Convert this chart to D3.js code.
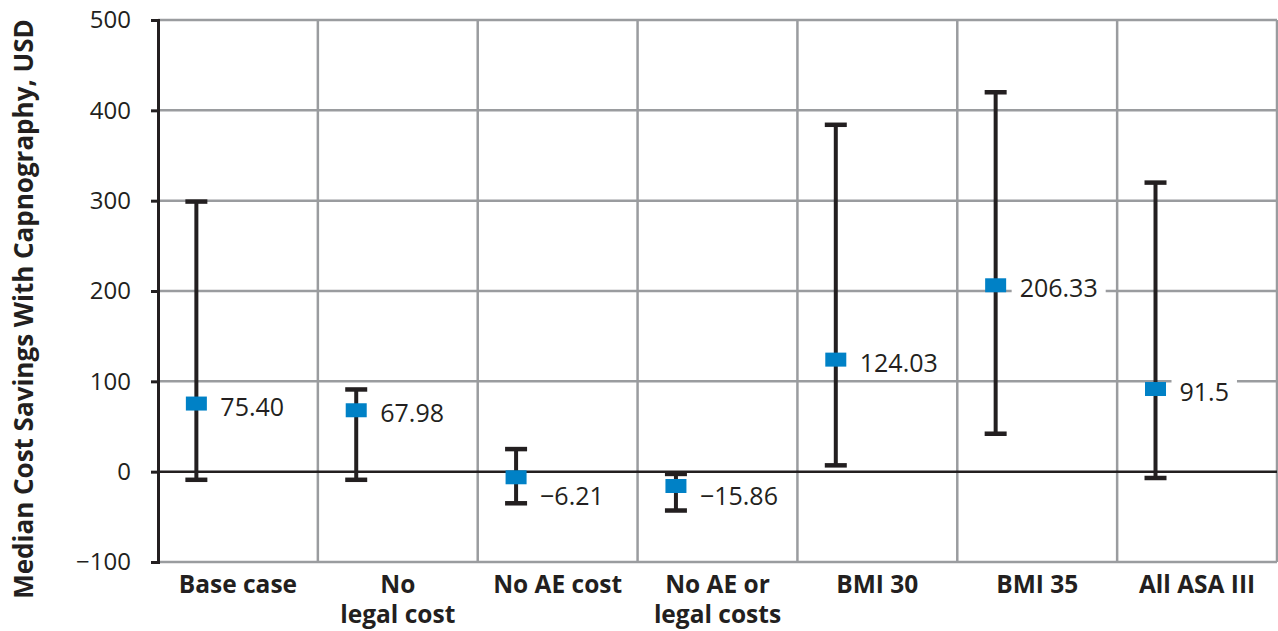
<!DOCTYPE html>
<html>
<head>
    <script src="https://d3js.org/d3.v7.min.js"></script>
</head>
<body style="margin:0;background:#fff">
    <script>
        const [width, height] = [1278, 631]

        // data
        const categories = ["Base case", "No\nlegal cost", "No AE cost", "No AE or\nlegal costs", "BMI 30", "BMI 35", "All ASA III"];
        const medians = [75.40, 67.98, -6.21, -15.86, 124.03, 206.33, 91.5];
        const medianLabels = ["75.40", "67.98", "\u22126.21", "\u221215.86", "124.03", "206.33", "91.5"];
        const lower = [-9, -9, -35, -43, 7, 42, -7];
        const upper = [299, 91, 25, -2.5, 384, 420, 320];
        const yTicks = [-100, 0, 100, 200, 300, 400, 500];

        const margin = {top: 20, right: 1, bottom: 69, left: 158};

        const data = categories.map((c, i) => ({
            cat: c, median: medians[i], label: medianLabels[i], lo: lower[i], hi: upper[i]
        }));

        const svg = d3.select("body")
            .append("svg")
            .attr("width", width)
            .attr("height", height)
            .style("font-family", "'Open Sans', sans-serif");

        const x = d3.scaleBand()
            .domain(categories)
            .range([margin.left, width - margin.right])
            .paddingInner(0).paddingOuter(0);

        const y = d3.scaleLinear()
            .domain([-100, 500])
            .range([height - margin.bottom, margin.top]);

        const px = d => x(d.cat) + x.bandwidth() * 0.24;

        // grid
        svg.append("g")
            .selectAll("line")
            .data(yTicks.filter(t => t !== 0))
            .enter()
            .append("line")
            .attr("x1", margin.left)
            .attr("x2", width - margin.right)
            .attr("y1", d => y(d))
            .attr("y2", d => y(d))
            .style("stroke", "#9a9c9f")
            .style("stroke-width", 2.5);

        svg.append("g")
            .selectAll("line")
            .data(categories.slice(1).concat(["end"]))
            .enter()
            .append("line")
            .attr("x1", d => d === "end" ? width - margin.right : x(d))
            .attr("x2", d => d === "end" ? width - margin.right : x(d))
            .attr("y1", y(500))
            .attr("y2", y(-100))
            .style("stroke", "#9a9c9f")
            .style("stroke-width", 2.5);

        // zero line
        svg.append("line")
            .attr("x1", margin.left)
            .attr("x2", width - margin.right)
            .attr("y1", y(0))
            .attr("y2", y(0))
            .style("stroke", "#231f20")
            .style("stroke-width", 2.5);

        // y axis
        const yAxis = svg.append("g")
            .attr("transform", `translate(${margin.left},0)`)
            .call(d3.axisLeft(y).tickValues(yTicks).tickSize(7).tickPadding(20)
                .tickFormat(d => d < 0 ? "\u2212" + Math.abs(d) : d));
        yAxis.select(".domain").style("stroke", "#231f20").style("stroke-width", 3);
        yAxis.selectAll(".tick line").style("stroke", "#231f20").style("stroke-width", 3);
        yAxis.selectAll(".tick text")
            .style("font-size", "24px")
            .style("fill", "#231f20")
            .style("font-family", "'Open Sans', sans-serif");

        // y title
        svg.append("text")
            .attr("transform", `translate(33,${(y(500) + y(-100)) / 2 + 18}) rotate(-90)`)
            .attr("text-anchor", "middle")
            .style("font-size", "26px")
            .style("font-weight", "bold")
            .style("fill", "#231f20")
            .text("Median Cost Savings With Capnography, USD");

        // x labels
        const xl = svg.append("g")
            .selectAll("text")
            .data(categories)
            .enter()
            .append("text")
            .attr("y", height - margin.bottom + 31)
            .attr("text-anchor", "middle")
            .style("font-size", "24.5px")
            .style("font-weight", "bold")
            .style("fill", "#231f20");
        xl.selectAll("tspan")
            .data(d => d.split("\n").map(s => ({s, x: x(d) + x.bandwidth() / 2})))
            .enter()
            .append("tspan")
            .attr("x", d => d.x)
            .attr("dy", (d, i) => i === 0 ? 0 : 30)
            .text(d => d.s);

        // error bars
        const bars = svg.append("g")
            .selectAll("g")
            .data(data)
            .enter()
            .append("g");

        bars.append("line")
            .attr("x1", px).attr("x2", px)
            .attr("y1", d => y(d.lo)).attr("y2", d => y(d.hi))
            .style("stroke", "#231f20")
            .style("stroke-width", 4);

        [d => d.lo, d => d.hi].forEach(f => {
            bars.append("line")
                .attr("x1", d => px(d) - 11).attr("x2", d => px(d) + 11)
                .attr("y1", d => y(f(d))).attr("y2", d => y(f(d)))
                .style("stroke", "#231f20")
                .style("stroke-width", 4.5);
        });

        // value labels with white backing; negative ones sit below the zero line
        const labelY = d => d.median < 0
            ? Math.max(y(d.median) + 2, y(0) + 23)
            : y(d.median) + 2;

        const labels = bars.append("text")
            .attr("x", d => px(d) + 24)
            .attr("y", labelY)
            .attr("dominant-baseline", "central")
            .style("font-size", "25px")
            .style("fill", "#231f20")
            .text(d => d.label);

        labels.each(function (d) {
            const b = this.getBBox();
            d3.select(this.parentNode).insert("rect", "text")
                .attr("x", b.x - 8)
                .attr("y", b.y + 4)
                .attr("width", b.width + 16)
                .attr("height", b.height - 8)
                .style("fill", "#fff");
        });

        // markers
        bars.append("rect")
            .attr("x", d => px(d) - 10.5)
            .attr("y", d => y(d.median) - 7)
            .attr("width", 21)
            .attr("height", 14)
            .style("fill", "#0081c6");
    </script>
</body>
</html>
